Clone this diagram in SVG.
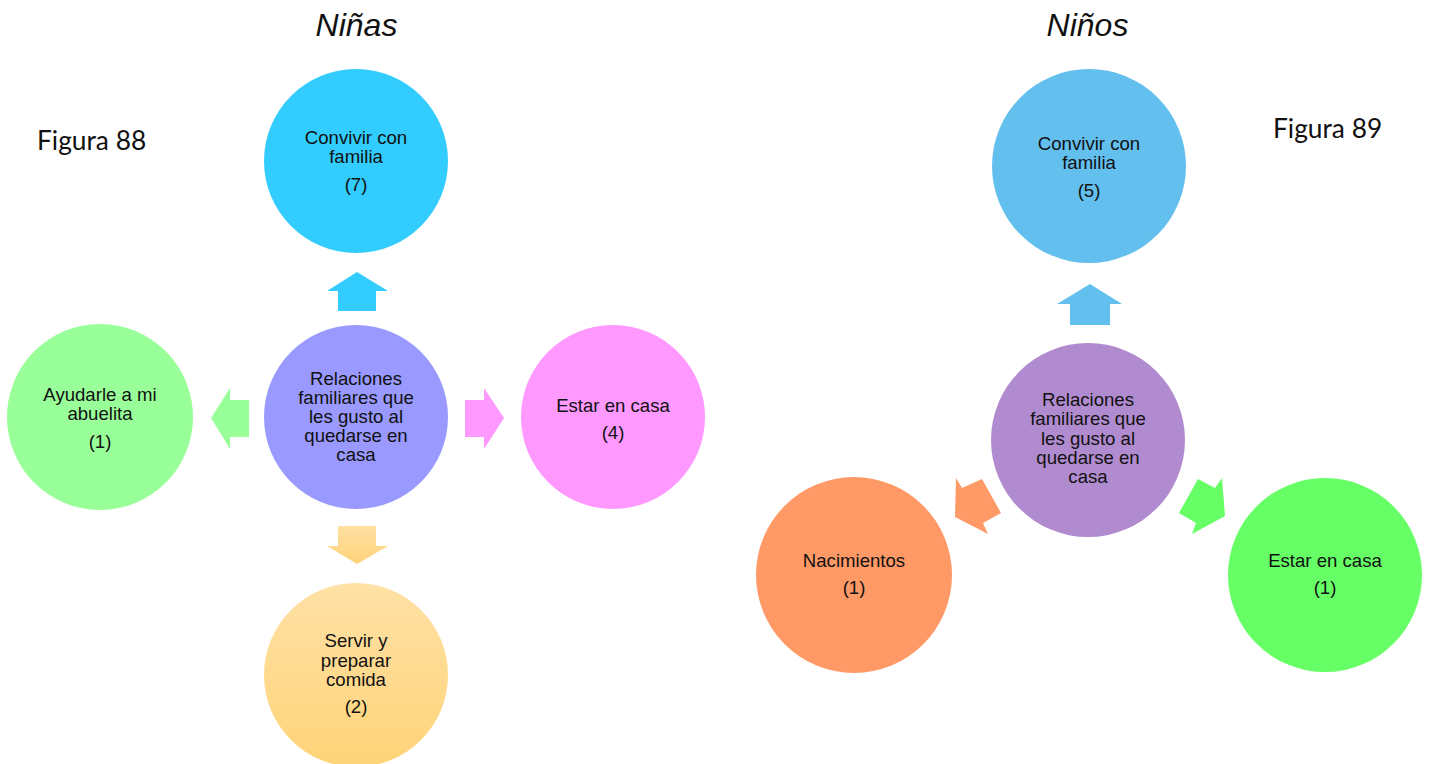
<svg xmlns="http://www.w3.org/2000/svg" width="1430" height="764" viewBox="0 0 1430 764">
<style>
.lbl{font-family:"Liberation Sans",Arial,sans-serif;font-size:18.6px;fill:#111;text-anchor:middle}
.title{font-family:"Liberation Sans",Arial,sans-serif;font-size:32px;font-style:italic;fill:#111;text-anchor:middle}
.fig{font-family:Lato,"Open Sans",sans-serif;font-size:26.3px;fill:#111}
.soft{filter:url(#soft)}
</style>
<defs>
<filter id="soft" x="-5%" y="-5%" width="110%" height="110%"><feGaussianBlur stdDeviation="0.7"/></filter>
<linearGradient id="yel" x1="0" y1="0" x2="0" y2="1"><stop offset="0" stop-color="#FFE1A6"/><stop offset="1" stop-color="#FFD478"/></linearGradient>
<linearGradient id="yelA" x1="0" y1="0" x2="0" y2="1"><stop offset="0" stop-color="#FFE0A2"/><stop offset="1" stop-color="#FFD37A"/></linearGradient>
</defs>
<rect width="1430" height="764" fill="#fff"/>
<text class="title" x="356.5" y="36">Niñas</text>
<text class="title" x="1087.5" y="36">Niños</text>
<text class="fig" x="37" y="150">Figura 88</text>
<text class="fig" x="1273" y="138">Figura 89</text>
<g id="connectors">
<polygon fill="#33CCFF" points="357,272 388,291 376,291 376,311 338,311 338,291 327,291"/>
<polygon fill="#99FF99" points="211,418 230,388 230,400 249,400 249,437 230,437 230,449"/>
<polygon fill="#FF99FF" points="504,418 484,388 484,400 465,400 465,437 484,437 484,449"/>
<polygon fill="url(#yelA)" points="357,564 388,546 376,546 376,526 338,526 338,546 327,546"/>
<polygon fill="#63BFEE" points="1090,284 1122,304 1110,304 1110,325 1070,325 1070,304 1057,304"/>
<polygon fill="#FF9966" points="956,478 962,488 982,479 1001,513 983,523 988,534 955,517"/>
<polygon fill="#66FF66" points="1198,479 1215,488 1222,478 1225,516 1192,534 1196,523 1179,513"/>
</g>
<g id="n-convivir-ninas"><circle class="soft" cx="356" cy="161" r="92" fill="#33CCFF"/>
<text class="lbl" x="356" y="144">Convivir con</text><text class="lbl" x="356" y="163">familia</text><text class="lbl" x="356" y="191">(7)</text></g>
<g id="n-centro-ninas"><circle class="soft" cx="356" cy="417" r="92" fill="#9999FF"/>
<text class="lbl" x="356" y="385">Relaciones</text><text class="lbl" x="356" y="404">familiares que</text><text class="lbl" x="356" y="423">les gusto al</text><text class="lbl" x="356" y="442">quedarse en</text><text class="lbl" x="356" y="461">casa</text></g>
<g id="n-ayudarle"><circle class="soft" cx="100" cy="417" r="93" fill="#99FF99"/>
<text class="lbl" x="100" y="401">Ayudarle a mi</text><text class="lbl" x="100" y="420">abuelita</text><text class="lbl" x="100" y="448">(1)</text></g>
<g id="n-estar-ninas"><circle class="soft" cx="613" cy="417" r="92" fill="#FF99FF"/>
<text class="lbl" x="613" y="412">Estar en casa</text><text class="lbl" x="613" y="439">(4)</text></g>
<g id="n-servir"><circle class="soft" cx="356" cy="675" r="92" fill="url(#yel)"/>
<text class="lbl" x="356" y="647">Servir y</text><text class="lbl" x="356" y="667">preparar</text><text class="lbl" x="356" y="686">comida</text><text class="lbl" x="356" y="713">(2)</text></g>
<g id="n-convivir-ninos"><circle class="soft" cx="1089" cy="166" r="97" fill="#63BFEE"/>
<text class="lbl" x="1089" y="150">Convivir con</text><text class="lbl" x="1089" y="169">familia</text><text class="lbl" x="1089" y="197">(5)</text></g>
<g id="n-centro-ninos"><circle class="soft" cx="1088" cy="440" r="97" fill="#B18BCF"/>
<text class="lbl" x="1088" y="406">Relaciones</text><text class="lbl" x="1088" y="425">familiares que</text><text class="lbl" x="1088" y="445">les gusto al</text><text class="lbl" x="1088" y="464">quedarse en</text><text class="lbl" x="1088" y="483">casa</text></g>
<g id="n-nacimientos"><circle class="soft" cx="854" cy="575" r="98" fill="#FF9966"/>
<text class="lbl" x="854" y="567">Nacimientos</text><text class="lbl" x="854" y="594">(1)</text></g>
<g id="n-estar-ninos"><circle class="soft" cx="1325" cy="575" r="97" fill="#66FF66"/>
<text class="lbl" x="1325" y="567">Estar en casa</text><text class="lbl" x="1325" y="594">(1)</text></g>
</svg>
